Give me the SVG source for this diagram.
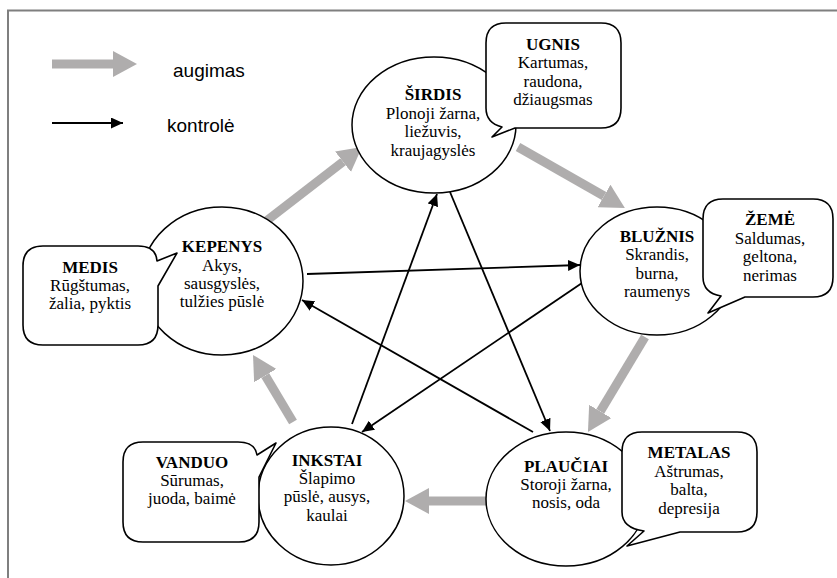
<svg xmlns="http://www.w3.org/2000/svg" width="837" height="578" viewBox="0 0 837 578">
<style>
.frame{stroke:#7f7f7f;stroke-width:2;fill:none}
.el{fill:#fff;stroke:#000;stroke-width:1.5}
.co{fill:#fff;stroke:#000;stroke-width:1.6;stroke-linejoin:round}
.grow{stroke:#afadad;stroke-width:9;fill:none}
.ctrl{stroke:#000;stroke-width:1.8;fill:none;marker-end:url(#bh)}
.t{font-family:"Liberation Serif","Times New Roman",serif;font-size:17px;fill:#000;text-anchor:middle}
.b{font-weight:bold}
.lg{font-family:"Liberation Sans",Arial,sans-serif;font-size:19px;fill:#000}
</style>
<defs>
<marker id="gh" markerUnits="userSpaceOnUse" markerWidth="24" markerHeight="26" refX="0" refY="13" orient="auto"><path d="M0,0 L24,13 L0,26 Z" fill="#afadad"/></marker>
<marker id="bh" markerUnits="userSpaceOnUse" markerWidth="13" markerHeight="11" refX="12" refY="5.5" orient="auto"><path d="M0,0 L12,5.5 L0,11 Z" fill="#000"/></marker>
</defs>
<rect width="837" height="578" fill="#fff"/>
<path class="frame" d="M8,578 V10.5 H837"/>
<g id="legend">
<line class="grow" x1="52" y1="64" x2="113" y2="64" marker-end="url(#gh)"/>
<text class="lg" x="173" y="77">augimas</text>
<line class="ctrl" x1="52" y1="123" x2="123" y2="123"/>
<text class="lg" x="167" y="132">kontrolė</text>
</g>
<g id="connectors">
<line class="grow" x1="265" y1="222" x2="343" y2="161.7" marker-end="url(#gh)"/>
<line class="grow" x1="518" y1="147" x2="604" y2="196" marker-end="url(#gh)"/>
<line class="grow" x1="645" y1="337" x2="600.3" y2="411.4" marker-end="url(#gh)"/>
<line class="grow" x1="486" y1="501" x2="429" y2="501" marker-end="url(#gh)"/>
<line class="grow" x1="293" y1="422" x2="265.3" y2="375.6" marker-end="url(#gh)"/>
<line class="ctrl" x1="307" y1="274" x2="580" y2="265"/>
<line class="ctrl" x1="582" y1="283" x2="362" y2="432"/>
<line class="ctrl" x1="352" y1="424" x2="437" y2="194"/>
<line class="ctrl" x1="450" y1="192" x2="550" y2="431"/>
<line class="ctrl" x1="533" y1="432" x2="302" y2="300"/>
</g>
<g id="sirdis">
<ellipse class="el" cx="434" cy="125" rx="82" ry="68"/>
<text class="t"><tspan class="b" x="433" y="100">ŠIRDIS</tspan><tspan x="433" y="119">Plonoji žarna,</tspan><tspan x="433" y="137">liežuvis,</tspan><tspan x="433" y="156">kraujagyslės</tspan></text>
</g>
<g id="ugnis">
<path class="co" d="M506,23 H601 Q621,23 621,43 V108 Q621,128 601,128 H515 L492,137 L502,127 Q486,123 486,108 V43 Q486,23 506,23 Z"/>
<text class="t"><tspan class="b" x="553" y="50">UGNIS</tspan><tspan x="553" y="68">Kartumas,</tspan><tspan x="553" y="87">raudona,</tspan><tspan x="553" y="105">džiaugsmas</tspan></text>
</g>
<g id="bluznis">
<ellipse class="el" cx="657" cy="271" rx="77" ry="64"/>
<text class="t"><tspan class="b" x="657" y="242">BLUŽNIS</tspan><tspan x="657" y="260">Skrandis,</tspan><tspan x="657" y="279">burna,</tspan><tspan x="657" y="297">raumenys</tspan></text>
</g>
<g id="zeme">
<path class="co" d="M723,199 H813 Q833,199 833,219 V277 Q833,297 813,297 H745 L708,313 L721,296 Q703,293 703,277 V219 Q703,199 723,199 Z"/>
<text class="t"><tspan class="b" x="770" y="225">ŽEMĖ</tspan><tspan x="770" y="244">Saldumas,</tspan><tspan x="770" y="262">geltona,</tspan><tspan x="770" y="281">nerimas</tspan></text>
</g>
<g id="kepenys">
<ellipse class="el" cx="222" cy="281" rx="81" ry="74"/>
<text class="t"><tspan class="b" x="222" y="252">KEPENYS</tspan><tspan x="222" y="271">Akys,</tspan><tspan x="222" y="289">sausgyslės,</tspan><tspan x="222" y="307">tulžies pūslė</tspan></text>
</g>
<g id="medis">
<path class="co" d="M43,246 H138 Q156,246 157,261 L177,253 L158,286 V325 Q158,345 138,345 H43 Q23,345 23,325 V266 Q23,246 43,246 Z"/>
<text class="t"><tspan class="b" x="90" y="273">MEDIS</tspan><tspan x="90" y="291">Rūgštumas,</tspan><tspan x="90" y="309">žalia, pyktis</tspan></text>
</g>
<g id="inkstai">
<ellipse class="el" cx="331" cy="496" rx="73" ry="69"/>
<text class="t"><tspan class="b" x="327" y="466">INKSTAI</tspan><tspan x="327" y="484">Šlapimo</tspan><tspan x="327" y="502">pūslė, ausys,</tspan><tspan x="327" y="521">kaulai</tspan></text>
</g>
<g id="vanduo">
<path class="co" d="M143,442 H238 Q255,442 257,455 L276,443 L259,477 V522 Q259,542 239,542 H143 Q123,542 123,522 V462 Q123,442 143,442 Z"/>
<text class="t"><tspan class="b" x="192" y="468">VANDUO</tspan><tspan x="192" y="486">Sūrumas,</tspan><tspan x="192" y="504">juoda, baimė</tspan></text>
</g>
<g id="plauciai">
<ellipse class="el" cx="566" cy="499" rx="80" ry="67"/>
<text class="t"><tspan class="b" x="566" y="472">PLAUČIAI</tspan><tspan x="566" y="490">Storoji žarna,</tspan><tspan x="566" y="508">nosis, oda</tspan></text>
</g>
<g id="metalas">
<path class="co" d="M642,432 H737 Q757,432 757,452 V512 Q757,532 737,532 H680 L627,546 L644,531 Q622,528 622,512 V452 Q622,432 642,432 Z"/>
<text class="t"><tspan class="b" x="689" y="458">METALAS</tspan><tspan x="689" y="477">Aštrumas,</tspan><tspan x="689" y="495">balta,</tspan><tspan x="689" y="514">depresija</tspan></text>
</g>
</svg>
